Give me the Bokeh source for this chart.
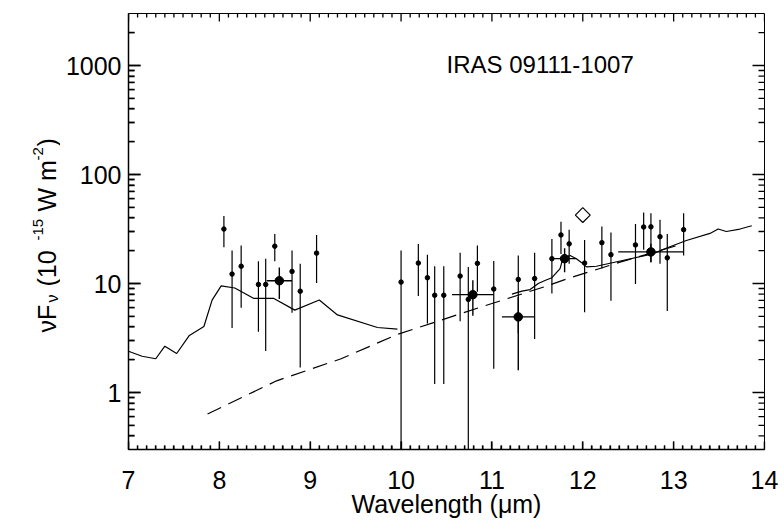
import numpy as np
from bokeh.plotting import figure
from bokeh.layouts import row
from bokeh.models import (FixedTicker, Range1d, NumeralTickFormatter)
from bokeh.core.properties import value
from bokeh.embed import file_html
from bokeh.resources import INLINE

# ---------------- data ----------------
# small photometric points with vertical error bars
sm_x  = [8.05, 8.14, 8.24, 8.43, 8.51, 8.61, 8.80, 8.89, 9.07,
         10.00, 10.19, 10.29, 10.37, 10.47, 10.65, 10.74, 10.84, 11.02,
         11.29, 11.47, 11.66, 11.76, 11.85, 12.02, 12.21, 12.31,
         12.58, 12.67, 12.75, 12.85, 12.93, 13.11]
sm_y  = [31.6, 12.2, 14.4, 9.8, 9.8, 22.0, 12.9, 8.5, 19.0,
         10.3, 15.4, 11.3, 7.8, 7.8, 11.7, 7.15, 15.3, 8.9,
         10.9, 11.1, 16.9, 27.9, 23.1, 15.4, 23.7, 18.4,
         22.6, 33.0, 33.1, 26.9, 17.2, 31.2]
sm_lo = [21.5, 3.9, 6.0, 3.6, 2.4, 16.0, 5.4, 1.7, 10.1,
         0.1, 7.7, 4.3, 1.2, 1.2, 4.5, 0.1, 8.4, 1.65,
         3.5, 3.1, 8.1, 18.7, 15.2, 5.45, 13.7, 6.95,
         9.9, 20.4, 15.7, 15.2, 5.6, 18.1]
sm_hi = [41.7, 20.1, 22.3, 16.0, 16.9, 28.5, 20.1, 15.2, 27.9,
         20.1, 23.0, 18.4, 14.4, 14.4, 19.1, 14.2, 22.3, 16.1,
         18.1, 19.1, 25.6, 36.8, 31.2, 25.1, 33.4, 29.4,
         35.1, 44.8, 44.2, 38.5, 28.5, 44.2]

# large (band-averaged) points with x and y error bars
bg_x    = [8.66, 10.79, 11.29, 11.80, 12.75]
bg_y    = [10.6, 7.9, 4.94, 16.9, 19.5]
bg_xlo  = [8.52, 10.56, 11.11, 11.66, 12.39]
bg_xhi  = [8.80, 11.02, 11.47, 11.93, 13.11]
bg_ylo  = [7.2, 5.07, 1.6, 12.7, 15.7]
bg_yhi  = [14.0, 10.7, 7.5, 21.1, 23.1]

# open diamond
dm_x = [12.00]
dm_y = [42.4]

# solid model spectrum (two pieces)
m1_x = [7.00, 7.15, 7.30, 7.40, 7.53, 7.67, 7.83, 7.92, 8.02, 8.17, 8.38,
        8.60, 8.83, 9.10, 9.30, 9.74, 9.96]
m1_y = [2.39, 2.15, 2.04, 2.66, 2.28, 3.34, 4.03, 7.05, 9.5, 9.1, 7.3,
        7.3, 5.7, 7.05, 5.15, 3.95, 3.82]
m2_x = [11.22, 11.33, 11.42, 11.51, 11.59, 11.66, 11.75, 11.78, 11.86, 11.93,
        11.98, 12.04, 12.15, 12.40, 12.77, 12.93, 13.14, 13.40, 13.49, 13.58,
        13.73, 13.86]
m2_y = [8.0, 8.5, 8.8, 10.0, 10.7, 11.3, 13.7, 16.9, 18.1, 16.9,
        15.7, 14.2, 14.4, 16.0, 18.7, 21.3, 24.8, 28.8, 31.6, 30.0,
        31.6, 33.9]

# dashed continuum
dc_x = [7.87, 8.63, 9.34, 9.95, 10.91, 11.59, 11.89, 12.41, 13.10]
dc_y = [0.635, 1.28, 2.04, 3.39, 6.2, 9.4, 11.5, 15.7, 23.1]

x_ticks = [7, 8, 9, 10, 11, 12, 13, 14]
y_ticks = [1, 10, 100, 1000]
x_minor = [round(7 + 0.1 * i, 1) for i in range(71) if i % 10]
y_minor = ([0.4, 0.5, 0.6, 0.7, 0.8, 0.9] + [float(v) for v in range(2, 10)] +
           [float(v) for v in range(20, 100, 10)] +
           [float(v) for v in range(200, 1000, 100)] + [2000.0])
title_text = "IRAS 09111-1007"
x_label = "Wavelength (μm)"
# y label pieces: text, font size, baseline x (px), start y (px from top)
ylab_text = ["νF", "ν", "(10", "-15", "W m", "-2", ")"]
ylab_size = ["25px", "16px", "25px", "15px", "25px", "15px", "25px"]
ylab_bx   = [46.5, 51.5, 46.5, 37.5, 46.5, 37.5, 46.5]
ylab_sy   = [332, 302, 286, 240, 211, 160, 146]

# ---------------- layout geometry ----------------
W, H = 784, 524
LW = 60                       # width of the strip holding the y label
FL, FR, FT, FB = 128, 764, 13, 449
XMIN, XMAX, YMIN, YMAX = 7, 14, 0.3, 3000
FONT = "Liberation Sans"
TICK_W = 1.3


def dx(sx):
    return float(XMIN + (sx - FL) * (XMAX - XMIN) / (FR - FL))


def dy(sy):
    l0, l1 = np.log10(YMIN), np.log10(YMAX)
    return float(10 ** (l0 + (FB - sy) * (l1 - l0) / (FB - FT)))


# ---- left strip with the rotated y-axis label (frame aligned with main frame) ----
lf = figure(width=LW, height=H, x_range=Range1d(0, LW), y_range=Range1d(FB, FT),
            output_backend="svg", toolbar_location=None, min_border=0)
lf.axis.visible = False
lf.grid.visible = False
lf.outline_line_color = None
lf.text(x=ylab_bx, y=ylab_sy, text=ylab_text, text_font=value(FONT),
        text_font_size=ylab_size, text_color="black", angle=np.pi / 2,
        text_align="left", text_baseline="alphabetic")

# ---- main plot ----
p = figure(width=W - LW, height=H, x_range=Range1d(XMIN, XMAX),
           y_range=Range1d(YMIN, YMAX), y_axis_type="log",
           output_backend="svg", toolbar_location=None,
           min_border_left=FL - LW, min_border_right=W - FR,
           min_border_top=FT, min_border_bottom=H - FB)
p.grid.grid_line_alpha = 0.0
p.outline_line_color = "black"
p.outline_line_width = 1

xa = p.xaxis[0]
ya = p.yaxis[0]
xa.ticker = FixedTicker(ticks=x_ticks, minor_ticks=x_minor)
ya.ticker = FixedTicker(ticks=y_ticks, minor_ticks=y_minor)
for ax, maj, mnr in ((xa, 8, 4), (ya, 12, 6)):
    ax.major_tick_in = maj
    ax.major_tick_out = 0
    ax.minor_tick_in = mnr
    ax.minor_tick_out = 0
    ax.major_tick_line_color = "#000000"
    ax.minor_tick_line_color = "#000000"
    ax.major_tick_line_width = TICK_W
    ax.minor_tick_line_width = TICK_W
    ax.axis_line_width = 1.5
    ax.axis_line_color = "black"
    ax.major_label_text_font = FONT
    ax.major_label_text_font_size = "25px"
    ax.major_label_text_color = "black"

xa.major_label_standoff = 21
xa.axis_label = x_label
xa.axis_label_text_font = FONT
xa.axis_label_text_font_size = "25px"
xa.axis_label_text_font_style = "normal"
xa.axis_label_text_color = "black"
xa.axis_label_standoff = -2
ya.formatter = NumeralTickFormatter(format="0")
ya.major_label_standoff = 7

# inward tick marks on all four edges, drawn as thin filled bars
hwx = 0.65 * (XMAX - XMIN) / (FR - FL)                       # half bar width, x data units
hwy = 10 ** (0.65 * (np.log10(YMAX) - np.log10(YMIN)) / (FB - FT))  # half bar height factor
tq = dict(fill_color="#000000", line_color=None)


def xbars(xs, y0, y1):
    p.quad(left=[x - hwx for x in xs], right=[x + hwx for x in xs],
           bottom=[y0] * len(xs), top=[y1] * len(xs), **tq)


def ybars(ys, x0, x1):
    p.quad(left=[x0] * len(ys), right=[x1] * len(ys),
           bottom=[y / hwy for y in ys], top=[y * hwy for y in ys], **tq)


xbars(x_ticks, float(YMIN), dy(FB - 8))
xbars(x_minor, float(YMIN), dy(FB - 4))
xbars(x_ticks, dy(FT + 8), float(YMAX))
xbars(x_minor, dy(FT + 4), float(YMAX))
ybars(y_ticks, float(XMIN), dx(FL + 12))
ybars(y_minor, float(XMIN), dx(FL + 6))
ybars(y_ticks, dx(FR - 12), float(XMAX))
ybars(y_minor, dx(FR - 6), float(XMAX))

# ---------------- marks ----------------
p.line(m1_x, m1_y, line_color="black", line_width=1.2)
p.line(m2_x, m2_y, line_color="black", line_width=1.2)
p.line(dc_x, dc_y, line_color="black", line_width=1.2, line_dash="15 8")

p.segment(x0=sm_x, y0=sm_lo, x1=sm_x, y1=sm_hi, line_color="black", line_width=1.2)
p.segment(x0=bg_x, y0=bg_ylo, x1=bg_x, y1=bg_yhi, line_color="black", line_width=1.4)
p.segment(x0=bg_xlo, y0=bg_y, x1=bg_xhi, y1=bg_y, line_color="black", line_width=1.4)

p.scatter(sm_x, sm_y, size=4.5, marker="circle", color="black")
p.scatter(bg_x, bg_y, size=8.5, marker="circle", color="black")
p.scatter(dm_x, dm_y, size=10.5, marker="square", angle=np.pi / 4,
          fill_color=None, line_color="black", line_width=1.2)

# title inside the frame (text glyph)
p.text(x=[10.5], y=[1020], text=[title_text], text_font=value(FONT),
       text_font_size=value("24px"), text_color="black",
       text_align="left", text_baseline="alphabetic")

layout = row(lf, p, spacing=0)
open("out.html", "w").write(file_html(layout, INLINE))
